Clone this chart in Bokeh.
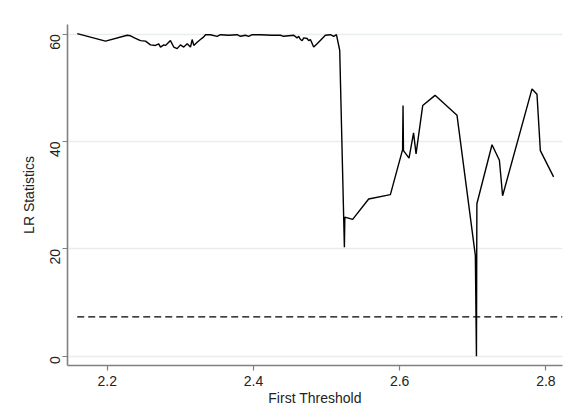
import math
from bokeh.plotting import figure
from bokeh.models import Range1d, FixedTicker, ColumnDataSource
from bokeh.embed import file_html
from bokeh.resources import INLINE

# Threshold grid (first threshold) and LR statistics
threshold = [2.159, 2.1977, 2.2273, 2.2319, 2.2387, 2.2455, 2.2524, 2.2592, 2.2660, 2.2705,
             2.2729, 2.2774, 2.2797, 2.2865, 2.2910, 2.2957, 2.3002, 2.3047, 2.3094, 2.3139,
             2.3162, 2.3184, 2.3230, 2.3275, 2.3321, 2.3344, 2.3412, 2.3504, 2.3549, 2.3660,
             2.3777, 2.3822, 2.3891, 2.3936, 2.3982, 2.4096, 2.4250, 2.4369, 2.4414, 2.4551,
             2.4597, 2.4619, 2.4643, 2.4666, 2.4688, 2.4734, 2.4756, 2.4779, 2.4824, 2.4871,
             2.4984, 2.5053, 2.5098, 2.5135, 2.5180, 2.5244, 2.5250, 2.5357, 2.5576, 2.5873,
             2.6040, 2.6046, 2.6052, 2.6128, 2.6190, 2.6224, 2.6315, 2.6484, 2.6784, 2.7035,
             2.7050, 2.7056, 2.7263, 2.7364, 2.7408, 2.7810, 2.7878, 2.7924, 2.8105]
lr_stat = [60.1, 58.7, 59.8, 59.7, 59.2, 58.8, 58.7, 58.0, 57.9, 58.2,
           57.6, 58.0, 57.9, 58.8, 57.6, 57.3, 58.0, 57.6, 58.2, 57.6,
           59.0, 57.9, 58.5, 59.0, 59.5, 59.9, 59.9, 59.6, 59.9, 59.8,
           59.9, 59.6, 59.8, 59.6, 59.9, 59.9, 59.8, 59.8, 59.6, 59.8,
           59.3, 59.6, 59.0, 58.8, 59.3, 59.2, 58.8, 59.0, 57.6, 58.2,
           59.8, 59.9, 59.6, 59.9, 57.0, 20.3, 25.9, 25.5, 29.3, 30.1,
           38.5, 46.7, 38.3, 36.9, 41.6, 37.7, 46.7, 48.6, 44.9, 18.8,
           0.0, 28.4, 39.4, 36.5, 29.9, 49.8, 48.8, 38.3, 33.4]

critical_value = 7.34
x_ticks = [2.2, 2.4, 2.6, 2.8]
y_ticks = [0, 20, 40, 60]
x_min, x_max = 2.1457, 2.8227
y_min, y_max = -1.73, 61.8

W, H = 566, 412
p = figure(width=W, height=H, output_backend="svg", toolbar_location=None,
           x_range=Range1d(x_min, x_max), y_range=Range1d(y_min, y_max),
           min_border_left=67, min_border_right=4, min_border_top=24, min_border_bottom=H - 365)

p.background_fill_color = "white"
p.border_fill_color = "white"
p.outline_line_color = None

FONT = "Liberation Sans"
AX = "#808080"

for ax in (p.xaxis[0], p.yaxis[0]):
    ax.axis_line_color = AX
    ax.axis_line_width = 1.6
    ax.major_tick_line_color = AX
    ax.major_tick_line_width = 1.2
    ax.major_tick_in = 0
    ax.major_tick_out = 5
    ax.minor_tick_line_color = None
    ax.major_label_text_font = FONT
    ax.major_label_text_font_size = "14px"
    ax.major_label_text_color = "#222222"
    ax.axis_label_text_font = FONT
    ax.axis_label_text_font_size = "14px"
    ax.axis_label_text_font_style = "normal"
    ax.axis_label_text_color = "#222222"

p.xaxis.ticker = FixedTicker(ticks=x_ticks)
p.yaxis.ticker = FixedTicker(ticks=y_ticks)
p.yaxis.major_label_orientation = math.pi / 2
p.xaxis.axis_label = "First Threshold"
p.yaxis.axis_label = "LR Statistics"
p.xaxis.major_label_standoff = 5
p.yaxis.major_label_standoff = 7
p.xaxis.axis_label_standoff = 1
p.yaxis.axis_label_standoff = 6

p.xgrid.grid_line_color = None
p.ygrid.grid_line_color = "#e8eef0"
p.ygrid.grid_line_width = 1.5

src = ColumnDataSource(dict(x=threshold, y=lr_stat))
p.line("x", "y", source=src, line_color="black", line_width=1.4)

p.line([threshold[0], x_max], [critical_value, critical_value], line_color="black",
       line_width=1.2, line_dash="7 4")

open("out.html", "w").write(file_html(p, INLINE))
